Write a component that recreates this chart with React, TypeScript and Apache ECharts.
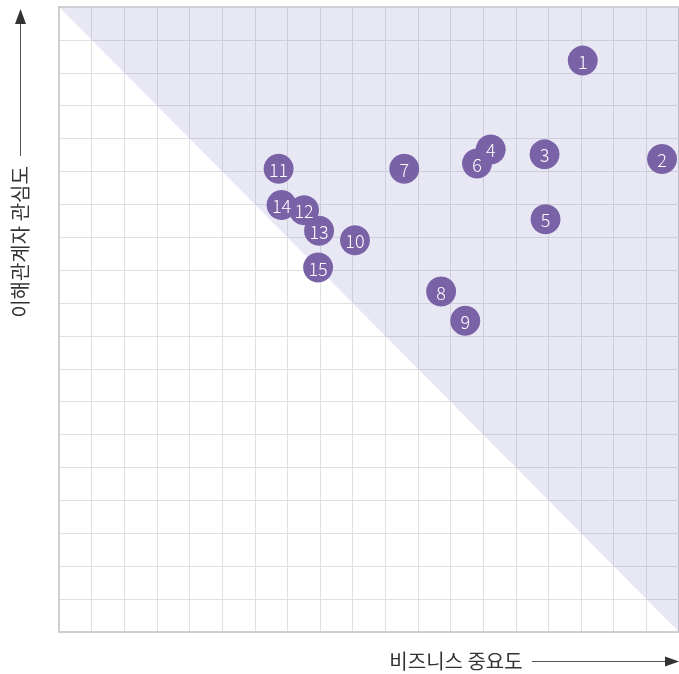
import React, { useEffect, useRef } from "react";
import * as echarts from "echarts";

const ITEM_LABELS = ["1", "2", "3", "4", "5", "6", "7", "8", "9", "10", "11", "12", "13", "14", "15"];
const BUSINESS_IMPORTANCE = [16.05, 18.48, 14.88, 13.23, 14.91, 12.81, 10.58, 11.71, 12.45, 9.07, 6.73, 7.51, 7.97, 6.82, 7.94];
const STAKEHOLDER_INTEREST = [17.37, 14.38, 14.52, 14.67, 12.55, 14.24, 14.08, 10.35, 9.46, 11.91, 14.08, 12.82, 12.2, 12.98, 11.08];
const AXIS_MIN = 0;
const AXIS_MAX = 19;
const SHADED_TRIANGLE = [
  [0, 19],
  [19, 19],
  [19, 0],
];
const X_TITLE = "비즈니스 중요도";
const Y_TITLE = "이해관계자 관심도";

const FONT = '"Noto Sans CJK KR", "Noto Sans", sans-serif';

export default function App() {
  const ref = useRef<HTMLDivElement>(null);
  useEffect(() => {
    if (!ref.current) return;
    const chart = echarts.init(ref.current, undefined, { renderer: "svg" });
    const points = ITEM_LABELS.map((l, i) => [BUSINESS_IMPORTANCE[i], STAKEHOLDER_INTEREST[i], l]);
    chart.setOption({
      animation: false,
      grid: {
        left: 59,
        right: -2,
        top: 7,
        bottom: 42,
        show: true,
        borderColor: "#cfcfcf",
        borderWidth: 2,
      },
      xAxis: {
        type: "value",
        min: AXIS_MIN,
        max: AXIS_MAX,
        interval: 1,
        axisLabel: { show: false },
        axisTick: { show: false },
        axisLine: { show: true, lineStyle: { color: "#cfcfcf", width: 2 } },
        splitLine: { show: true, lineStyle: { color: "#e0e0e0", width: 1 } },
      },
      yAxis: {
        type: "value",
        min: AXIS_MIN,
        max: AXIS_MAX,
        interval: 1,
        axisLabel: { show: false },
        axisTick: { show: false },
        axisLine: { show: true, lineStyle: { color: "#cfcfcf", width: 2 } },
        splitLine: { show: true, lineStyle: { color: "#e0e0e0", width: 1 } },
      },
      series: [
        {
          type: "custom",
          silent: true,
          z: 1,
          data: [0],
          renderItem: (params: any, api: any) => ({
            type: "polygon",
            shape: { points: SHADED_TRIANGLE.map((p) => api.coord(p)) },
            style: { fill: "rgba(110,110,190,0.16)" },
          }),
        },
        {
          type: "scatter",
          z: 3,
          symbol: "circle",
          symbolSize: 30,
          data: points,
          itemStyle: { color: "#7a62a7", opacity: 1 },
          label: {
            show: true,
            position: "inside",
            formatter: (p: any) => p.value[2],
            color: "#ffffff",
            fontSize: 18,
            fontWeight: 300,
            fontFamily: FONT,
          },
        },
      ],
      graphic: [
        {
          type: "line",
          shape: { x1: 20.5, y1: 156, x2: 20.5, y2: 20 },
          style: { stroke: "#555", lineWidth: 1 },
        },
        {
          type: "polygon",
          shape: { points: [[20.5, 9], [15, 24], [26, 24]] },
          style: { fill: "#333" },
        },
        {
          type: "text",
          x: 19,
          y: 242,
          rotation: Math.PI / 2,
          style: {
            text: Y_TITLE,
            fill: "#333",
            font: `20px ${FONT}`,
            align: "center",
            verticalAlign: "middle",
          },
        },
        {
          type: "text",
          x: 456,
          y: 660,
          style: {
            text: X_TITLE,
            fill: "#333",
            font: `20px ${FONT}`,
            align: "center",
            verticalAlign: "middle",
          },
        },
        {
          type: "line",
          shape: { x1: 532, y1: 661.5, x2: 668, y2: 661.5 },
          style: { stroke: "#555", lineWidth: 1 },
        },
        {
          type: "polygon",
          shape: { points: [[679, 661.5], [665, 656.5], [665, 666.5]] },
          style: { fill: "#333" },
        },
      ],
    });
    return () => chart.dispose();
  }, []);
  return <div ref={ref} style={{ position: "fixed", left: 0, top: 0, width: 679, height: 674 }} />;
}
